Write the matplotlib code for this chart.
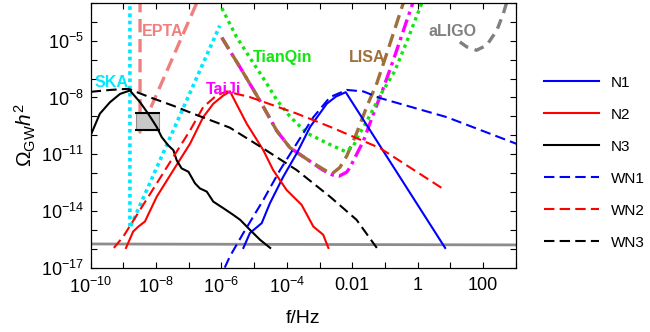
import matplotlib
matplotlib.use("Agg")
import matplotlib.pyplot as plt
import numpy as np

plt.rcParams['font.family'] = ['Liberation Sans', 'DejaVu Sans']
plt.rcParams['mathtext.fontset'] = 'custom'
plt.rcParams['mathtext.rm'] = 'Liberation Sans'
plt.rcParams['mathtext.it'] = 'Liberation Sans:italic'
plt.rcParams['mathtext.bf'] = 'Liberation Sans:bold'

# all curves as (log10 f/Hz, log10 Omega_GW h^2)
n1_lf = [-5.33, -5.13, -4.77, -4.52, -4.11, -3.70, -3.29, -2.78, -2.50, -2.20, 0.84]
n1_lo = [-15.96, -15.17, -14.65, -13.60, -12.19, -10.96, -9.56, -8.33, -7.95, -7.72, -15.96]

wn1_lf = [-5.90, -5.74, -5.33, -4.72, -4.21, -3.70, -3.19, -2.68, -2.17, -1.66, -1.15, 0.89, 3.05]
wn1_lo = [-17.0, -16.40, -15.17, -13.42, -11.84, -10.44, -9.04, -7.98, -7.60, -7.68, -8.03, -9.04, -10.47]

n2_lf = [-8.92, -8.70, -8.54, -8.34, -7.98, -7.47, -6.96, -6.56, -6.25, -5.94, -5.74,
         -5.23, -4.72, -4.42, -4.01, -3.55, -3.19, -2.89, -2.73]
n2_lo = [-15.96, -15.09, -14.83, -14.56, -13.25, -11.84, -10.44, -9.04, -8.33, -7.89, -7.68,
         -9.38, -10.79, -11.84, -12.89, -13.68, -14.83, -15.26, -15.96]

wn2_lf = [-9.29, -9.00, -7.47, -6.96, -6.56, -6.15, -5.84, -5.13, -3.70, -2.68, -1.15, 0.80]
wn2_lo = [-15.96, -15.35, -11.14, -9.74, -8.51, -7.89, -7.68, -7.98, -8.85, -9.55, -10.68, -12.86]

n3_lf = [-10.0, -9.72, -9.41, -9.10, -8.80, -8.49, -8.24, -7.98, -7.83, -7.63, -7.47, -7.37,
         -7.22, -7.01, -6.81, -6.66, -6.45, -6.25, -5.94, -5.64, -5.43, -5.13, -4.82, -4.51]
n3_lo = [-10.0, -8.86, -8.25, -7.81, -7.63, -8.25, -8.86, -9.56, -10.09, -10.53, -10.79, -11.32,
         -11.75, -11.93, -12.54, -12.81, -12.98, -13.51, -13.86, -14.21, -14.47, -15.0, -15.53, -15.96]

wn3_lf = [-10.0, -9.40, -8.85, -8.17, -7.47, -6.86, -6.05, -5.74, -4.72, -3.70, -2.68, -1.87, -1.25]
wn3_lo = [-7.70, -7.60, -7.54, -8.0, -8.44, -8.86, -9.39, -9.60, -10.70, -11.84, -13.25, -14.47, -15.96]

ska_lf = [-8.80, -8.80, -6.05]
ska_lo = [-2.5, -14.9, -4.2]

epta_lf = [-8.49, -8.49, -6.63]
epta_lo = [-2.5, -9.83, -2.5]

tianqin_lf = [-5.99, -5.54, -5.08, -4.62, -4.31, -3.91, -3.39, -2.78, -2.22, -1.97, -1.87,
              -1.46, -1.15, -0.70, -0.30, 0.15]
tianqin_lo = [-3.27, -4.80, -6.03, -7.25, -8.13, -9.00, -9.88, -10.41, -10.85, -10.60, -10.20,
              -8.95, -7.90, -6.60, -4.90, -2.90]

lisa_lf = [-5.99, -5.43, -4.82, -4.31, -3.91, -3.39, -2.89, -2.63, -2.38, -2.17, -1.87,
           -1.56, -1.25, -0.95, -0.42]
lisa_lo = [-4.83, -6.41, -8.18, -9.76, -10.65, -11.26, -11.79, -12.05, -11.70, -11.10, -9.90,
           -8.50, -7.25, -5.70, -2.90]

taiji_lf = [-5.99, -5.43, -4.82, -4.31, -3.91, -3.39, -2.89, -2.60, -2.40, -2.17, -2.07,
            -1.66, -1.36, -1.05, -0.74, -0.13]
taiji_lo = [-4.83, -6.41, -8.18, -9.76, -10.65, -11.26, -11.85, -12.10, -12.16, -11.95, -11.70,
            -10.30, -8.90, -7.50, -6.00, -2.90]

aligo_lf = [1.29, 1.50, 1.80, 2.11, 2.42, 2.62, 2.75]
aligo_lo = [-5.06, -5.32, -5.50, -5.24, -4.45, -3.56, -2.80]

floor_lf = [-10.0, 3.0]
floor_lo = [-15.75, -15.80]

# NANOGrav-like box
box_lf = [-8.60, -7.90]
box_lo = [-9.72, -8.80]

labels = ["SKA", "EPTA", "TaiJi", "TianQin", "LISA", "aLIGO"]
label_lf = [-9.35, -7.79, -5.95, -4.12, -1.55, 1.08]
label_lo = [-7.19, -4.49, -7.56, -5.86, -5.86, -4.49]
label_colors = ["#00e8ff", "#f08080", "#ff00ff", "#11e611", "#a0703c", "#808080"]

xtick_exp = list(range(-10, 4))
xtick_labels = [r"$10^{-10}$", "", r"$10^{-8}$", "", r"$10^{-6}$", "", r"$10^{-4}$", "",
                "0.01", "", "1", "", "100", ""]
ytick_exp = list(range(-17, -2))
ytick_labels = [r"$10^{-17}$", "", "", r"$10^{-14}$", "", "", r"$10^{-11}$", "", "",
                r"$10^{-8}$", "", "", r"$10^{-5}$", "", ""]


def p(lf, lo):
    return 10.0 ** np.array(lf), 10.0 ** np.array(lo)


fig = plt.figure(figsize=(6.5, 3.32), dpi=100)
ax = fig.add_axes([0.1395, 0.194, 0.654, 0.797])

# detector curves
ax.plot(*p(floor_lf, floor_lo), color="#8c8c8c", lw=2.0)
ax.plot(*p(ska_lf, ska_lo), color=label_colors[0], lw=2.6, ls=(0, (1, 1)))
ax.plot(*p(epta_lf, epta_lo), color=label_colors[1], lw=2.4, ls=(0, (4, 2)))
ax.plot(*p(taiji_lf, taiji_lo), color=label_colors[2], lw=2.4, ls=(0, (4, 1.5, 1, 1.5)))
ax.plot(*p(lisa_lf, lisa_lo), color=label_colors[4], lw=2.4, ls=(0, (4, 2)))
ax.plot(*p(tianqin_lf, tianqin_lo), color=label_colors[3], lw=2.4, ls=(0, (1, 1.2)))
ax.plot(*p(aligo_lf, aligo_lo), color=label_colors[5], lw=2.4, ls=(0, (3, 2)))

bx, by = p(box_lf, box_lo)
ax.fill_between(bx, by[0], by[1], color="#c8c8c8", ec="#909090", lw=0.8, zorder=3)
ax.hlines(by, bx[0] * 0.93, bx[1] * 1.07, color="black", lw=1.5, zorder=4)

# model curves
lw = 1.5
dash = (0, (5, 2.5))
ax.plot(*p(n1_lf, n1_lo), color="blue", lw=lw, label="N1", zorder=5)
ax.plot(*p(n2_lf, n2_lo), color="red", lw=lw, label="N2", zorder=5)
ax.plot(*p(n3_lf, n3_lo), color="black", lw=lw, label="N3", zorder=5)
ax.plot(*p(wn1_lf, wn1_lo), color="blue", lw=lw, ls=dash, label="WN1", zorder=5)
ax.plot(*p(wn2_lf, wn2_lo), color="red", lw=lw, ls=dash, label="WN2", zorder=5)
ax.plot(*p(wn3_lf, wn3_lo), color="black", lw=lw, ls=dash, label="WN3", zorder=5)

for t, x, y, c in zip(labels, label_lf, label_lo, label_colors):
    ax.text(10 ** x, 10 ** y, t, color=c, fontsize=11.5, fontweight="bold",
            ha="center", va="center", zorder=6)

ax.set_xscale("log")
ax.set_yscale("log")
ax.set_xlim(1e-10, 1e3)
ax.set_ylim(1e-17, 1e-3)
ax.set_xticks([10.0 ** e for e in xtick_exp])
ax.set_xticklabels(xtick_labels)
ax.set_yticks([10.0 ** e for e in ytick_exp])
ax.set_yticklabels(ytick_labels)
ax.minorticks_off()
ax.tick_params(which="both", direction="in", top=True, right=True, length=4,
               labelsize=13, width=0.8)
ax.tick_params(axis="x", pad=7)
ax.tick_params(axis="y", pad=5)
for s in ax.spines.values():
    s.set_linewidth(0.9)

ax.set_xlabel("f/Hz", fontsize=14, labelpad=9)
ax.set_ylabel(r"$\Omega_{\mathrm{GW}}h^2$", fontsize=15, labelpad=2)

ax.legend(loc="center left", bbox_to_anchor=(0.815, 0.51), bbox_transform=fig.transFigure,
          frameon=False, fontsize=11, handlelength=3.6, labelspacing=1.18, handletextpad=0.8)

fig.savefig("out.png", dpi=100)
